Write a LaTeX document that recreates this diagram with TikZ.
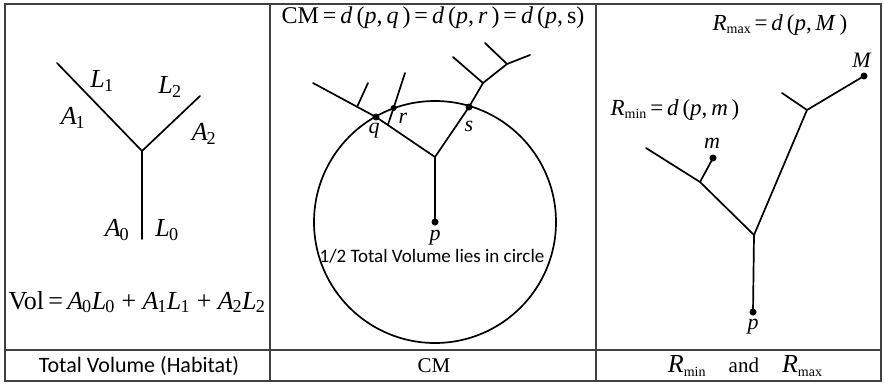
\documentclass[tikz,border=0pt]{standalone}
\usepackage{fontspec}
\usetikzlibrary{calc}
\setmainfont{Liberation Serif}
\newfontfamily\sansf{Carlito}
\newcommand{\iv}[1]{\textit{#1}}
\newcommand{\Asb}[1]{\textit{A}\kern-0.05em\textsubscript{#1}}
\newcommand{\Lsb}[1]{\textit{L}\kern-0.03em\textsubscript{#1}}
\newcommand{\eqs}{\,=\,}
\newcommand{\lowsub}[1]{{\fontsize{14}{16}\selectfont\raisebox{-0.5ex}{#1}}}
\begin{document}
\begin{tikzpicture}[x=1pt,y=-1pt,
  branch/.style={line width=1.7pt, line cap=round, line join=round},
  frame/.style={line width=1.2pt, draw=black!75},
  dotn/.style={circle, fill=black, inner sep=0pt, minimum size=7pt},
  big/.style={inner sep=0pt, font=\fontsize{26}{28}\selectfont},
  mid/.style={inner sep=0pt, font=\fontsize{23}{25}\selectfont},
  lab/.style={inner sep=0pt, font=\fontsize{22}{24}\selectfont},
  captxt/.style={inner sep=0pt, font=\fontsize{21}{23}\selectfont}]
\useasboundingbox (0,0) rectangle (884,384);
% table frame
\draw[frame] (5,4) rectangle (881,381);
\draw[frame] (5,350) -- (881,350);
\draw[frame] (270,4) -- (270,381);
\draw[frame] (596,4) -- (596,381);

% ---------- panel 1 ----------
\coordinate (j1) at (142,151);
\coordinate (b0) at (142,239);
\coordinate (b1) at (57,63);
\coordinate (b2) at (200,96);
\draw[branch] (b1) -- (j1) -- (b2);
\draw[branch] (j1) -- (b0);
\node[big] (L1) at (102,81) {\Lsb{1}};
\node[big] (L2) at (170,87) {\Lsb{2}};
\node[big] (A1) at (73,118) {\Asb{1}};
\node[big] (A2) at (204,134) {\Asb{2}};
\node[big] (A0) at (117,230) {\Asb{0}};
\node[big] (L0) at (167,230) {\Lsb{0}};
\node[big] (vol) at (137,302) {Vol\eqs\Asb{0}\Lsb{0} + \Asb{1}\Lsb{1} + \Asb{2}\Lsb{2}};
\node[inner sep=0pt, font=\sansf\fontsize{22}{24}\selectfont] (c1) at (139,366) {Total Volume (Habitat)};

% ---------- panel 2 ----------
\coordinate (p2) at (435,222);
\draw[line width=1.7pt] (p2) circle[radius=121];
\coordinate (j2) at (435,157);
\coordinate (q) at (376,117);
\coordinate (le) at (313,83);
\coordinate (t1) at ($(q)!0.3!(le)$);
\coordinate (t1e) at (368,83);
\coordinate (rb) at ($(j2)!0.8!(q)$);
\coordinate (r) at (393.6,108);
\coordinate (re) at (405,73);
\coordinate (s) at (469,107);
\coordinate (k1) at (483,83);
\coordinate (k2) at (507,64);
\coordinate (k2e) at (530,55);
\coordinate (k1e) at (453,57);
\coordinate (k2t) at (485,43);
\draw[branch] (p2) -- (j2) -- (q) -- (le);
\draw[branch] (t1) -- (t1e);
\draw[branch] (rb) -- (r) -- (re);
\draw[branch] (j2) -- (s) -- (k1) -- (k2) -- (k2e);
\draw[branch] (k1) -- (k1e);
\draw[branch] (k2) -- (k2t);
\node[dotn] (pd2) at (p2) {};
\node[dotn] (qd) at (q) {};
\node[dotn, minimum size=6pt] (rd) at (r) {};
\node[dotn] (sd) at (s) {};
\node[lab] (ql) at (374,131) {\iv{q}};
\node[lab] (rl) at (403,118) {\iv{r}};
\node[lab] (sl) at (469,126) {\iv{s}};
\node[lab] (pl2) at (435,238) {\iv{p}};
\node[inner sep=0pt, font=\sansf\fontsize{19}{22}\selectfont] (half) at (432,256) {1/2 Total Volume lies in circle};
\node[inner sep=0pt, font=\fontsize{24}{26}\selectfont] (cmt) at (433,18) {CM\eqs\iv{d}\,(\iv{p},\,\iv{q}\,)\eqs\iv{d}\,(\iv{p},\,\iv{r}\,)\eqs\iv{d}\,(\iv{p},\,s)};
\node[captxt] (c2) at (434,366) {CM};

% ---------- panel 3 ----------
\coordinate (p3) at (753,312);
\coordinate (j3) at (754,235);
\coordinate (k3) at (807,110);
\coordinate (Mp) at (864,76);
\coordinate (k3e) at (782,93);
\coordinate (k4) at (700,182);
\coordinate (k4e) at (646,148);
\coordinate (mp) at (713,158);
\draw[branch] (p3) -- (j3) -- (k3) -- (Mp);
\draw[branch] (k3) -- (k3e);
\draw[branch] (j3) -- (k4) -- (k4e);
\draw[branch] (k4) -- (mp);
\node[dotn] (pd3) at (p3) {};
\node[dotn] (Md) at (Mp) {};
\node[dotn] (md) at (mp) {};
\node[lab] (Ml) at (862,60) {\iv{M}};
\node[lab] (ml) at (712,143) {\iv{m}};
\node[lab] (pl3) at (753,327) {\iv{p}};
\node[mid] (rmax) at (780,25) {\iv{R}\lowsub{max}\eqs\iv{d}\,(\iv{p},\,\iv{M}\,)};
\node[mid] (rmin) at (675,110) {\iv{R}\lowsub{min}\eqs\iv{d}\,(\iv{p},\,\iv{m}\,)};
\node[captxt] (c3) at (745,366) {{\fontsize{26}{28}\selectfont\iv{R}}\lowsub{min}\hspace{1.1em}and\hspace{1.1em}{\fontsize{26}{28}\selectfont\iv{R}}\lowsub{max}};
\end{tikzpicture}
\end{document}
